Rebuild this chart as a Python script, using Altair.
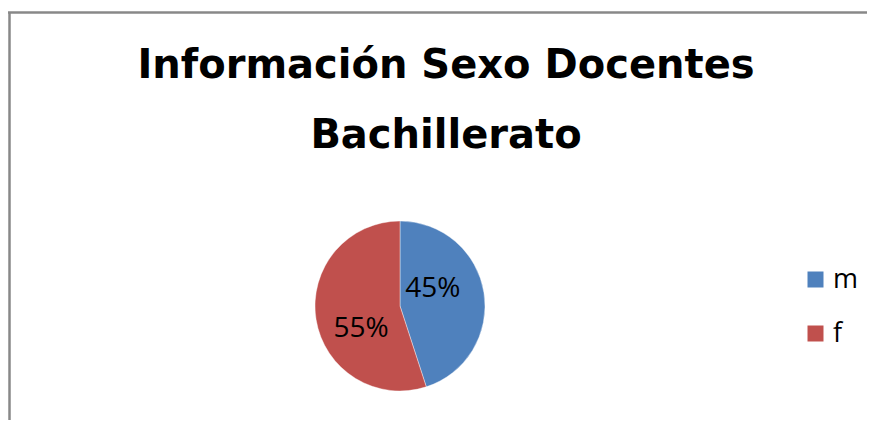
import altair as alt
import pandas as pd

# --- data -------------------------------------------------------------
sexo = ["m", "f"]
porcentaje = [45, 55]
etiquetas = ["45%", "55%"]
orden = [0, 1]
titulo = "Información Sexo Docentes\nBachillerato"
colores = ["#4F81BD", "#C0504D"]

df = pd.DataFrame({"sexo": sexo, "pct": porcentaje, "etiqueta": etiquetas, "orden": orden})
df_titulo = pd.DataFrame({"t": [titulo]})
df_marco = pd.DataFrame({"k": [0]})

# --- layout ------------------------------------------------------------
W, H = 859, 412
CX, CY, R = 392, 298, 85

base = alt.Chart(df).encode(
    theta=alt.Theta("pct:Q", stack=True),
    order=alt.Order("orden:Q"),
)

pie = base.mark_arc(radius=R, stroke="#ffffff", strokeWidth=0.4).encode(
    color=alt.Color(
        "sexo:N",
        scale=alt.Scale(domain=sexo, range=colores),
        sort=sexo,
        legend=alt.Legend(
            orient="none",
            legendX=794,
            legendY=258,
            title=None,
            symbolType="square",
            symbolSize=256,
            symbolStrokeWidth=0,
            labelFont="Open Sans",
            labelFontSize=27,
            labelColor="#000000",
            labelOffset=4,
            rowPadding=26,
            padding=0,
        ),
    ),
    x=alt.value(CX),
    y=alt.value(CY),
)

labels = base.mark_text(
    radius=41, thetaOffset=-0.35, dx=-3, dy=3, font="Open Sans", fontSize=28, color="#000000"
).encode(
    text="etiqueta:N",
    x=alt.value(CX),
    y=alt.value(CY),
)

title = alt.Chart(df_titulo).mark_text(
    font="DejaVu Sans",
    fontWeight="bold",
    fontSize=40,
    lineBreak="\n",
    lineHeight=70,
    align="center",
    baseline="alphabetic",
    color="#000000",
).encode(text="t:N", x=alt.value(438), y=alt.value(70))

borde_sup = alt.Chart(df_marco).mark_rule(color="#888888", strokeWidth=2.5).encode(
    x=alt.value(0), x2=alt.value(W), y=alt.value(4.5)
)
borde_izq = alt.Chart(df_marco).mark_rule(color="#888888", strokeWidth=2.5).encode(
    x=alt.value(1.5), y=alt.value(4), y2=alt.value(H)
)

chart = alt.layer(borde_sup, borde_izq, title, pie, labels).properties(
    width=W,
    height=H,
    autosize=alt.AutoSizeParams(type="none"),
    padding=0,
    background="#ffffff",
).configure_view(stroke=None)

chart.save("out.html", embed_options={"renderer": "svg", "actions": False})
